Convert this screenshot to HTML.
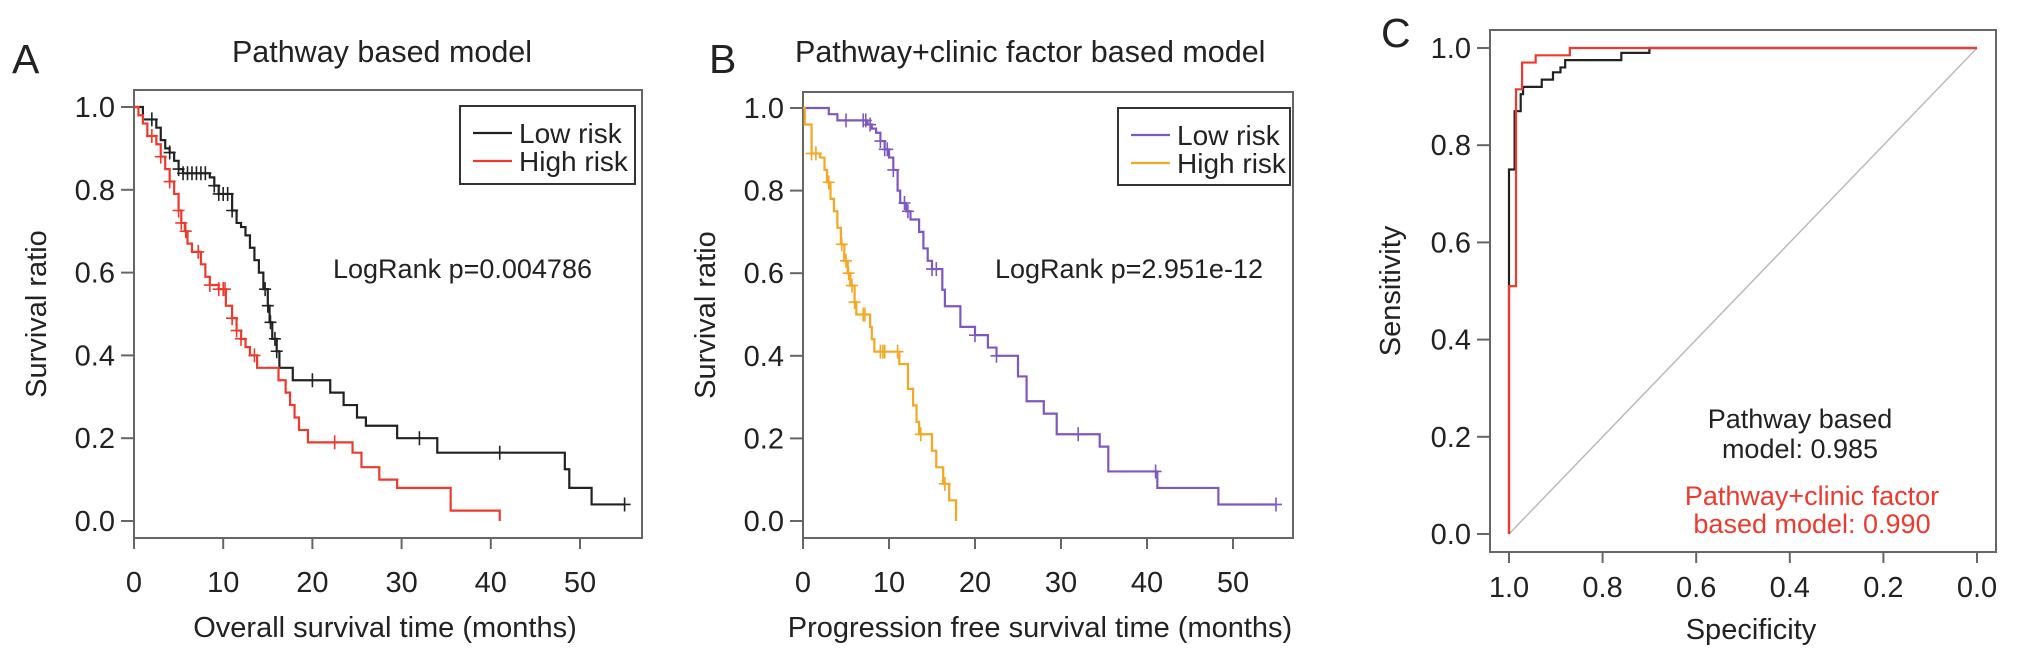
<!DOCTYPE html>
<html><head><meta charset="utf-8">
<style>
html,body{margin:0;padding:0;background:#fff;}
svg{display:block;}
text{font-family:"Liberation Sans",Arial,sans-serif;fill:#222;}
</style></head>
<body>
<svg id="fig" width="2032" height="657" viewBox="0 0 2032 657" xmlns="http://www.w3.org/2000/svg"></svg>
<script>
// ---------- Panel A data ----------
const aLowT = [0,1,2.5,3,3.5,4,4.5,5,5.5,8.5,9,9.5,11,11.5,12,12.5,13,13.5,14,14.5,15,15.2,15.5,16,16.3,17.8,22,23.5,25,26,29.5,34,48.3,48.8,51.3];
const aLowS = [1,0.97,0.95,0.92,0.90,0.89,0.87,0.85,0.84,0.83,0.81,0.79,0.75,0.72,0.71,0.69,0.66,0.63,0.60,0.56,0.52,0.48,0.44,0.41,0.37,0.34,0.31,0.28,0.25,0.23,0.20,0.165,0.125,0.08,0.04];
const aLowEnd = 55;
const aLowCens = [2,4,5,5.5,6,6.5,7,7.5,8,9,9.5,10,10.5,11,14.7,15,15.3,15.8,16,20,32,41,55];
const aHighT = [0,0.5,1,1.5,2.5,3,3.5,4,4.5,5,5.3,5.7,6,6.5,7.5,8,8.5,9.5,10.3,11,11.5,12,12.5,13,13.8,16.2,17,17.5,18,18.5,19.5,24.5,25.5,27.5,29.5,35.5,41];
const aHighS = [1,0.98,0.96,0.93,0.91,0.88,0.85,0.82,0.79,0.75,0.72,0.70,0.67,0.65,0.62,0.59,0.57,0.56,0.52,0.49,0.46,0.44,0.42,0.40,0.37,0.34,0.31,0.28,0.25,0.22,0.19,0.165,0.13,0.10,0.08,0.025,0.0];
const aHighEnd = 41;
const aHighCens = [2,3,4,5,5.3,5.8,7.2,8.5,9.5,10,10.2,11,11.5,12,13.5,22.5];
// ---------- Panel B data ----------
const bLowT = [0,3,4,7.5,8,8.5,9,9.5,10,10.5,11,11.3,12,12.5,13.5,14,14.5,15,16.2,16.5,18.3,20,21.5,22.5,25,26,28,29.5,34.5,35.5,41.2,48.3];
const bLowS = [1,0.985,0.97,0.96,0.95,0.94,0.92,0.90,0.88,0.85,0.80,0.77,0.75,0.73,0.70,0.66,0.63,0.61,0.56,0.52,0.47,0.45,0.42,0.40,0.35,0.29,0.26,0.21,0.18,0.12,0.08,0.04];
const bLowEnd = 55;
const bLowCens = [5,7,7.3,7.8,9,9.5,9.8,10.5,11.8,12.2,15,15.5,20,22.5,32,41,55];
const bHighT = [0,0.2,1,2,2.5,2.8,3.2,3.6,4,4.4,4.8,5.2,5.5,6,6.2,7.8,8,8.3,11.2,12.2,12.8,13.2,13.5,15,15.5,16.3,17,17.8];
const bHighS = [1,0.96,0.89,0.88,0.85,0.82,0.78,0.75,0.71,0.67,0.63,0.60,0.57,0.53,0.50,0.47,0.44,0.41,0.38,0.32,0.28,0.24,0.21,0.17,0.13,0.09,0.05,0.0];
const bHighEnd = 17.8;
const bHighCens = [1,1.5,3,4.5,5,5.3,5.7,6,7,7.2,9,9.3,9.5,11,13.7,16.5];
// ---------- Panel C data (specificity, sensitivity) ----------
const rocPathSpec = [1,1,0.988,0.988,0.975,0.975,0.97,0.97,0.93,0.93,0.906,0.906,0.89,0.89,0.88,0.88,0.76,0.76,0.70,0.70,0];
const rocPathSens = [0,0.75,0.75,0.87,0.87,0.905,0.905,0.92,0.92,0.935,0.935,0.95,0.95,0.96,0.96,0.975,0.975,0.99,0.99,1,1];
const rocClinSpec = [1,1,0.985,0.985,0.972,0.972,0.943,0.943,0.87,0.87,0];
const rocClinSens = [0,0.51,0.51,0.915,0.915,0.97,0.97,0.985,0.985,1,1];
const survTicks = [0,0.2,0.4,0.6,0.8,1.0];
const survTickLabels = ["0.0","0.2","0.4","0.6","0.8","1.0"];
const timeTicks = [0,10,20,30,40,50];
const specTicks = [1.0,0.8,0.6,0.4,0.2,0.0];
const specTickLabels = ["1.0","0.8","0.6","0.4","0.2","0.0"];

const NS = "http://www.w3.org/2000/svg";
const svg = document.getElementById('fig');
function el(tag, attrs, parent, text){
  const e = document.createElementNS(NS, tag);
  for (const k in attrs) e.setAttribute(k, attrs[k]);
  if (text !== undefined) e.textContent = text;
  (parent||svg).appendChild(e);
  return e;
}

function kmPath(T,S,end,sx,sy){
  let d = 'M'+sx(T[0])+','+sy(S[0]);
  for (let i=1;i<T.length;i++){ d += ' H'+sx(T[i])+' V'+sy(S[i]); }
  d += ' H'+sx(end);
  return d;
}
function survAt(T,S,t){ let s=S[0]; for(let i=0;i<T.length;i++){ if(T[i]<=t) s=S[i]; } return s; }

function kmPanel(cfg){
  const g = el('g',{});
  
  
  const sx = t => cfg.x0 + t*cfg.pxPerMonth;
  const sy = v => cfg.y0 - v*(cfg.y0-cfg.y1);
  const box = el('rect',{x:cfg.bl,y:cfg.bt,width:cfg.br-cfg.bl,height:cfg.bb-cfg.bt,fill:'none',stroke:'#666','stroke-width':2},g);
   
  survTicks.forEach((v,i)=>{
    const l = el('line',{x1:cfg.bl-13,x2:cfg.bl,y1:sy(v),y2:sy(v),stroke:'#666','stroke-width':2},g);
     
    const t = el('text',{x:cfg.bl-19,y:sy(v)+10,'text-anchor':'end','font-size':29},g,survTickLabels[i]);
     
  });
  timeTicks.forEach(v=>{
    const l = el('line',{x1:sx(v),x2:sx(v),y1:cfg.bb,y2:cfg.bb+11,stroke:'#666','stroke-width':2},g);
     
    const t = el('text',{x:sx(v),y:592,'text-anchor':'middle','font-size':29},g,String(v));
     
  });
  const series = [[cfg.low,cfg.lowColor,'low-risk-curve'],[cfg.high,cfg.highColor,'high-risk-curve']];
  series.forEach(([s,col,nm])=>{
    const p = el('path',{d:kmPath(s.T,s.S,s.end,sx,sy),fill:'none',stroke:col,'stroke-width':2.2},g);
     
    s.C.forEach(c=>{
      const yy = sy(survAt(s.T,s.S,c)), xx = sx(c);
      const m = el('path',{d:`M${xx-6},${yy} H${xx+6} M${xx},${yy-7} V${yy+7}`,stroke:col,'stroke-width':1.6},g);
       
    });
  });
  const lg = el('g',{},g);
   
  el('rect',{x:cfg.lg[0],y:cfg.lg[1],width:cfg.lg[2],height:cfg.lg[3],fill:'#fff',stroke:'#333','stroke-width':2},lg);
  const e1 = el('g',{},lg);  
  el('line',{x1:cfg.lg[0]+13,x2:cfg.lg[0]+52,y1:cfg.lg[1]+27,y2:cfg.lg[1]+27,stroke:cfg.lowColor,'stroke-width':2.2},e1);
  el('text',{x:cfg.lg[0]+59,y:cfg.lg[1]+37,'font-size':28},e1,'Low risk');
  const e2 = el('g',{},lg);  
  el('line',{x1:cfg.lg[0]+13,x2:cfg.lg[0]+52,y1:cfg.lg[1]+55,y2:cfg.lg[1]+55,stroke:cfg.highColor,'stroke-width':2.2},e2);
  el('text',{x:cfg.lg[0]+59,y:cfg.lg[1]+65,'font-size':28},e2,'High risk');
  const lr = el('text',{x:cfg.lrx,y:278,'font-size':27},g,cfg.logrank);
   
  const tt = el('text',{x:cfg.titleX,y:62,'text-anchor':cfg.titleAnchor,'font-size':30.5},g,cfg.title);
   
  const pl = el('text',{x:cfg.letterX,y:73,'font-size':41},g,cfg.letter);
   
  const xt = el('text',{x:cfg.xtX,y:637,'text-anchor':'middle','font-size':29},g,cfg.xtitle);
   
  const yt = el('text',{x:0,y:0,'text-anchor':'middle','font-size':29,transform:`translate(${cfg.ytX},${(cfg.bt+cfg.bb)/2}) rotate(-90)`},g,'Survival ratio');
   
}

kmPanel({name:'panel-a-km-plot',x0:134,pxPerMonth:8.92,y0:521,y1:107,bl:134,br:642,bt:90,bb:538,
  low:{T:aLowT,S:aLowS,end:aLowEnd,C:aLowCens},high:{T:aHighT,S:aHighS,end:aHighEnd,C:aHighCens},
  lowColor:'#222',highColor:'#ee3a2e',lg:[460,106,175,78],lrx:333,logrank:'LogRank p=0.004786',
  title:'Pathway based model',titleX:382,titleAnchor:'middle',letter:'A',letterX:12,
  xtitle:'Overall survival time (months)',xtX:385,ytX:46});
kmPanel({name:'panel-b-km-plot',x0:803,pxPerMonth:8.6,y0:521,y1:108,bl:803,br:1293,bt:92,bb:538,
  low:{T:bLowT,S:bLowS,end:bLowEnd,C:bLowCens},high:{T:bHighT,S:bHighS,end:bHighEnd,C:bHighCens},
  lowColor:'#7e57c2',highColor:'#f5a623',lg:[1118,108,172,77],lrx:995,logrank:'LogRank p=2.951e-12',
  title:'Pathway+clinic factor based model',titleX:795,titleAnchor:'start',letter:'B',letterX:709,
  xtitle:'Progression free survival time (months)',xtX:1040,ytX:715});

// ---------- Panel C ----------
(function(){
  const g = el('g',{});
  
  
  const sx = s => 1977 - s*(1977-1509);
  const sy = v => 534 - v*(534-48);
  const bl=1490, br=1996, bt=30, bb=552;
  const box = el('rect',{x:bl,y:bt,width:br-bl,height:bb-bt,fill:'none',stroke:'#666','stroke-width':2},g);
   
  const dg = el('line',{x1:sx(1),y1:sy(0),x2:sx(0),y2:sy(1),stroke:'#bbb','stroke-width':1.5},g);
   
  survTicks.forEach((v,i)=>{
    const l = el('line',{x1:bl-13,x2:bl,y1:sy(v),y2:sy(v),stroke:'#666','stroke-width':2},g);
     
    const t = el('text',{x:bl-19,y:sy(v)+10,'text-anchor':'end','font-size':29},g,survTickLabels[i]);
     
  });
  specTicks.forEach((v,i)=>{
    const l = el('line',{x1:sx(v),x2:sx(v),y1:bb,y2:bb+11,stroke:'#666','stroke-width':2},g);
     
    const t = el('text',{x:sx(v),y:597,'text-anchor':'middle','font-size':29},g,specTickLabels[i]);
     
  });
  function roc(S,N,col,nm){
    let d='M'+sx(S[0])+','+sy(N[0]);
    for(let i=1;i<S.length;i++) d+=' L'+sx(S[i])+','+sy(N[i]);
    const p = el('path',{d:d,fill:'none',stroke:col,'stroke-width':2.2},g);
     
  }
  roc(rocPathSpec,rocPathSens,'#222','roc-pathway-model');
  roc(rocClinSpec,rocClinSens,'#ee3a2e','roc-pathway-clinic-model');
  const a1 = el('text',{x:1800,y:428,'text-anchor':'middle','font-size':27},g,'Pathway based');
   
  const a2 = el('text',{x:1800,y:458,'text-anchor':'middle','font-size':27},g,'model: 0.985');
   
  const a3 = el('text',{x:1812,y:505,'text-anchor':'middle','font-size':27,style:'fill:#ee3a2e'},g,'Pathway+clinic factor');
   
  const a4 = el('text',{x:1812,y:533,'text-anchor':'middle','font-size':27,style:'fill:#ee3a2e'},g,'based model: 0.990');
   
  const pl = el('text',{x:1381,y:47,'font-size':41},g,'C');
   
  const xt = el('text',{x:1751,y:639,'text-anchor':'middle','font-size':29},g,'Specificity');
   
  const yt = el('text',{x:0,y:0,'text-anchor':'middle','font-size':29,transform:`translate(1400,${sy(0.5)}) rotate(-90)`},g,'Sensitivity');
   
})();
</script>
</body></html>
